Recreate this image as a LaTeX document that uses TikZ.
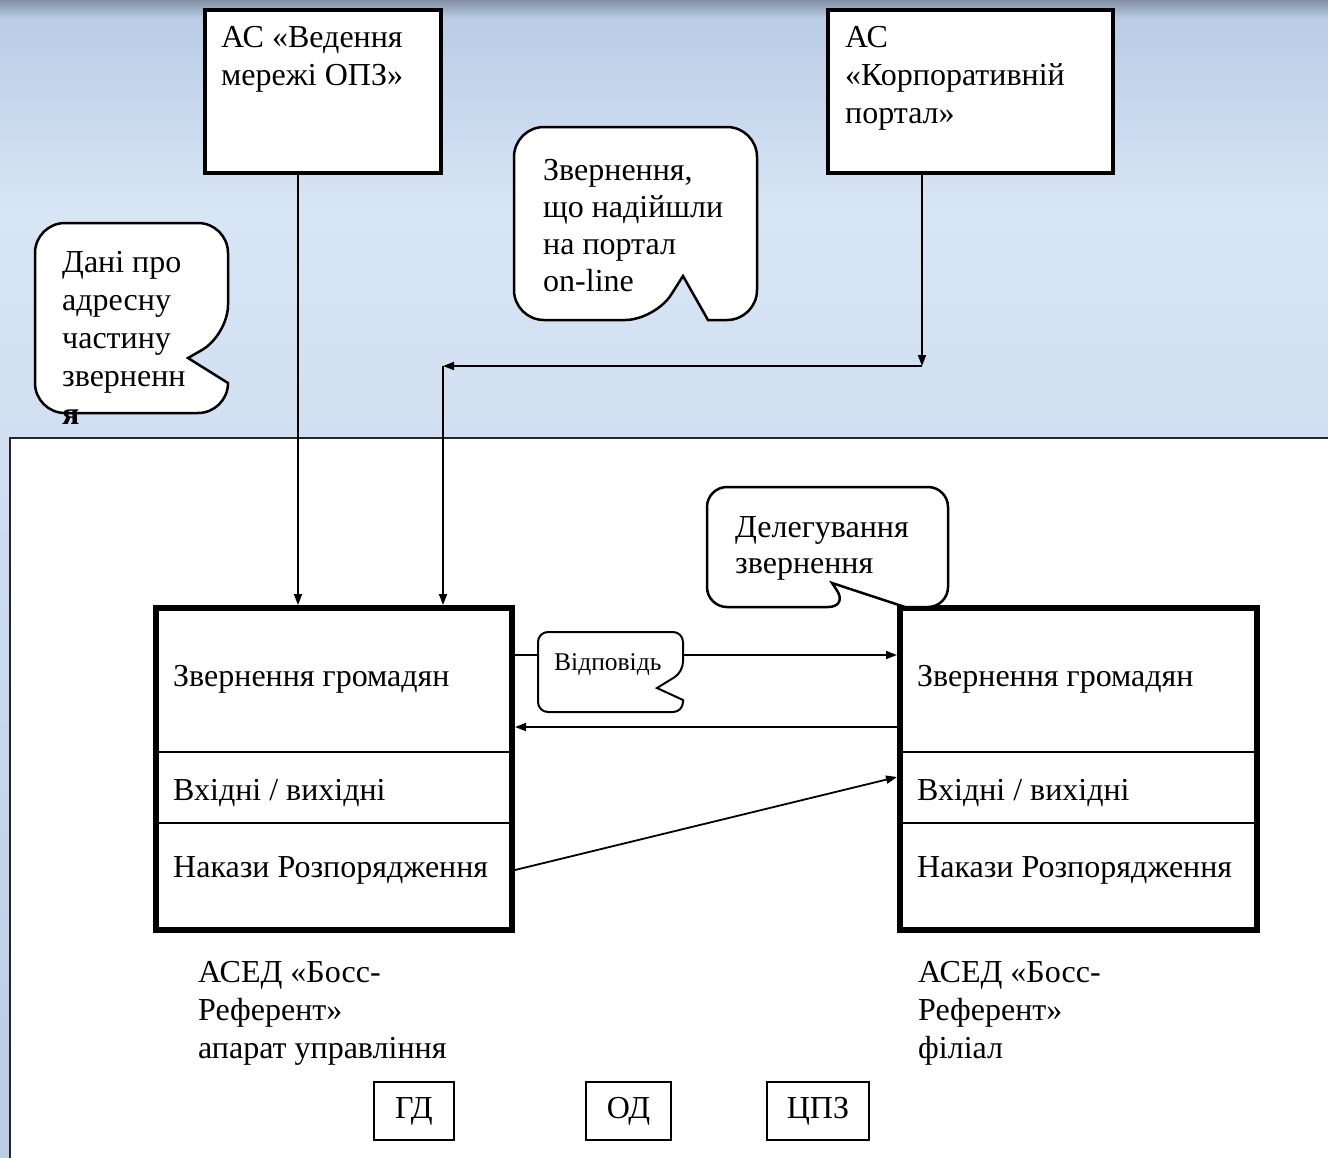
\documentclass[tikz,border=0pt]{standalone}
\usepackage{fontspec}
\setmainfont{Liberation Serif}
\usetikzlibrary{arrows.meta,positioning}

\definecolor{skytop}{RGB}{130,144,166}
\definecolor{skyA}{RGB}{186,204,230}
\definecolor{skyB}{RGB}{216,229,245}

\tikzset{
  sysbox/.style={draw, line width=4pt, fill=white},
  mainbox/.style={draw, line width=6pt, fill=white, minimum height=322pt},
  smallbox/.style={draw, line width=1.6pt, fill=white, minimum height=58pt, inner sep=0pt, font=\fontsize{32}{38}\selectfont},
  txt/.style={anchor=base west, inner sep=0pt, align=left, font=\fontsize{32}{38}\selectfont},
  note/.style={draw, line width=2.5pt, fill=white},
  divider/.style={line width=1.6pt},
  arr/.style={line width=1.8pt, -{Triangle[length=11pt,width=8pt]}}
}

\begin{document}
\begin{tikzpicture}[x=1pt,y=-1pt]
\useasboundingbox (0,0) rectangle (1328,1157);
% sky
\shade[top color=skytop, bottom color=skyA] (0,0) rectangle (1328,18);
\shade[top color=skyA, bottom color=skyB] (0,18) rectangle (1328,210);
\shade[top color=skyB, bottom color=skyA] (0,210) rectangle (1328,1157);
% white sheet
\draw[line width=2pt, draw=black!85, fill=white] (10,438) rectangle (1345,1175);

% outer systems (multi-line texts sit on their last baseline)
\node[sysbox, minimum width=236pt, minimum height=163pt] (opz) at (323,91.5) {};
\node[txt] (opzlbl) at (221,85) {АС «Ведення\\мережі ОПЗ»};
\node[sysbox, minimum width=285pt, minimum height=163pt] (portal) at (970.5,91.5) {};
\node[txt] (portallbl) at (845,123) {АС\\«Корпоративній\\портал»};

% main systems
\node[mainbox, minimum width=356pt] (apar) at (334,769) {};
\node[mainbox, minimum width=357pt] (fil) at (1078.5,769) {};
\foreach \b in {apar,fil}
{
  \draw[divider] (\b.west |- 0,752) -- (\b.east |- 0,752);
  \draw[divider] (\b.west |- 0,823) -- (\b.east |- 0,823);
}
\node[txt] (apar1) at (173,686) {Звернення громадян};
\node[txt] (apar2) at (173,800) {Вхідні / вихідні};
\node[txt] (apar3) at (173,877) {Накази Розпорядження};
\node[txt] (fil1) at (917,686) {Звернення громадян};
\node[txt] (fil2) at (917,800) {Вхідні / вихідні};
\node[txt] (fil3) at (917,877) {Накази Розпорядження};
\node[txt] (aparname) at (198,1058) {АСЕД «Босс-\\Референт»\\апарат управління};
\node[txt] (filname) at (918,1058) {АСЕД «Босс-\\Референт»\\філіал};

% links
\coordinate (jn) at ([xshift=96pt]portal.south west |- 0,366);
\coordinate (jw) at (443,366);
\draw[arr] ([xshift=95pt]opz.south west) -- ([xshift=95pt]opz.south west |- apar.north);
\draw[arr] ([xshift=96pt]portal.south west) -- (jn);
\draw[arr] (jn) -- (jw);
\draw[arr] (jw) -- (jw |- apar.north);
\draw[arr] (apar.east |- 0,655) -- (fil.west |- 0,655);
\draw[arr] (fil.west |- 0,727) -- (apar.east |- 0,727);
\draw[arr] (apar.east |- 0,870) -- (fil.west |- 0,777);

% callouts
\draw[note] (228,383) [rounded corners=30pt] -- (228,413) -- (35,413) -- (35,223) -- (228,223) -- (228,335) [sharp corners] -- (188,358) -- cycle;
\node[txt] (addr) at (62,424) {Дані про\\адресну\\частину\\зверненн\\\textbf{я}};
\draw[note] (708,320) [rounded corners=30pt] -- (757,320) -- (757,127) -- (514,127) -- (514,320) -- (655,320) [sharp corners] -- (683,276) -- cycle;
\node[txt, font=\fontsize{32}{37}\selectfont] (online) at (543,291) {Звернення,\\що надійшли\\на портал\\on-line};
\draw[note] (905,607) [rounded corners=20pt] -- (948,607) -- (948,487) -- (707,487) -- (707,607) -- (848,607) [sharp corners] -- (832,583) -- cycle;
\node[txt, font=\fontsize{32}{36}\selectfont] (deleg) at (735,573) {Делегування\\звернення};
\draw[note, line width=2pt] (683,700) [rounded corners=10pt] -- (683,712) -- (538,712) -- (538,632) -- (683,632) -- (683,672) [sharp corners] -- (657,688) -- cycle;
\node[txt, font=\fontsize{25.5}{30}\selectfont] (answer) at (554,670) {Відповідь};

% departments
\node[smallbox, minimum width=80pt] (gd) at (414,1111) {ГД};
\node[smallbox, minimum width=85pt] (od) at (628.5,1111) {ОД};
\node[smallbox, minimum width=102pt] (cpz) at (818,1111) {ЦПЗ};
\end{tikzpicture}
\end{document}
